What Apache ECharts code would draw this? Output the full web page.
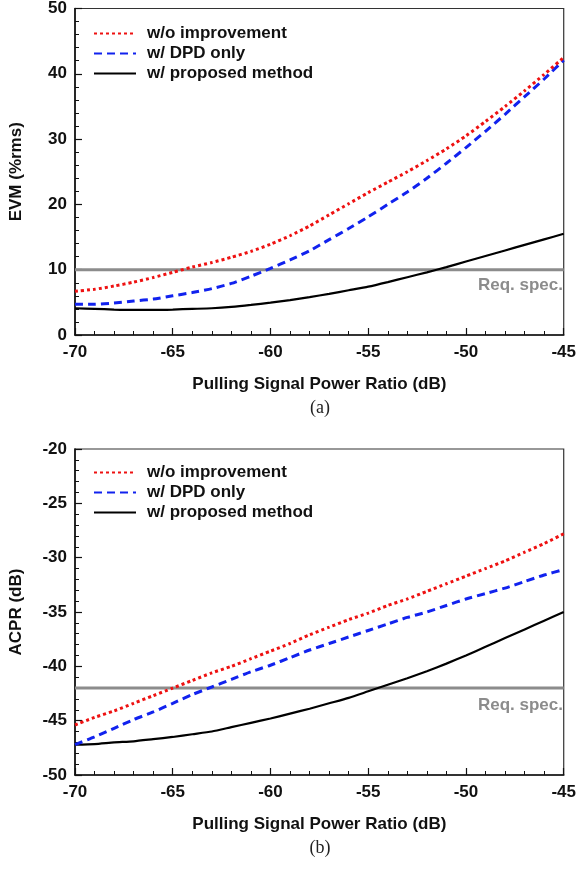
<!DOCTYPE html>
<html>
<head>
<meta charset="utf-8">
<script src="https://cdn.jsdelivr.net/npm/echarts@6/dist/echarts.min.js"></script>
<style>
html,body{margin:0;padding:0;background:#fff;}
#chart{width:579px;height:869px;}
</style>
</head>
<body>
<div id="chart"></div>
<script>
// ---- data ----
const xVals = [-70,-69,-68,-67,-66,-65,-64,-63,-62,-61,-60,-59,-58,-57,-56,-55,-54,-53,-52,-51,-50,-49,-48,-47,-46,-45];

const evmNoImprovement = [6.7,7.0,7.5,8.1,8.8,9.6,10.4,11.1,11.9,12.8,13.9,15.2,16.7,18.4,20.1,21.8,23.4,25.0,26.7,28.5,30.5,32.7,35.0,37.4,39.9,42.5];
const evmDpdOnly       = [4.7,4.7,4.9,5.2,5.5,6.0,6.5,7.1,7.9,9.0,10.2,11.5,12.9,14.6,16.3,18.1,20.0,21.9,24.0,26.3,28.7,31.2,33.8,36.5,39.2,42.1];
const evmProposed      = [4.1,4.0,3.9,3.85,3.85,3.9,4.0,4.1,4.3,4.6,4.95,5.35,5.8,6.3,6.85,7.4,8.1,8.85,9.6,10.4,11.25,12.1,12.95,13.8,14.65,15.5];

const acprNoImprovement = [-45.4,-44.7,-44.1,-43.4,-42.7,-42.0,-41.3,-40.6,-40.0,-39.3,-38.6,-37.9,-37.1,-36.4,-35.7,-35.1,-34.4,-33.8,-33.1,-32.4,-31.7,-31.0,-30.3,-29.5,-28.7,-27.8];
const acprDpdOnly       = [-47.2,-46.5,-45.7,-44.9,-44.2,-43.4,-42.6,-41.9,-41.2,-40.5,-39.9,-39.2,-38.5,-37.9,-37.3,-36.7,-36.1,-35.5,-35.0,-34.4,-33.8,-33.3,-32.8,-32.2,-31.6,-31.1];
const acprProposed      = [-47.2,-47.15,-47.0,-46.9,-46.7,-46.5,-46.25,-46.0,-45.6,-45.2,-44.8,-44.35,-43.9,-43.4,-42.9,-42.3,-41.7,-41.1,-40.45,-39.75,-39.0,-38.2,-37.4,-36.6,-35.8,-35.0];

const evmSpec = 10;
const acprSpec = -42;
const xRange = [-70, -45];
const evmRange = [0, 50];
const acprRange = [-50, -20];

const seriesNames = ['w/o improvement', 'w/ DPD only', 'w/ proposed method'];
const xTitle = 'Pulling Signal Power Ratio (dB)';
const yTitles = ['EVM (%rms)', 'ACPR (dB)'];
const captions = ['(a)', '(b)'];
const specLabel = 'Req. spec.';

// ---- chart ----
const FONT = 'Liberation Sans, Arial, sans-serif';
const pairs = arr => xVals.map((x, i) => [x, arr[i]]);

const chart = echarts.init(document.getElementById('chart'), null, {renderer: 'canvas'});

function makeX(gi) {
  return {
    gridIndex: gi, type: 'value', min: xRange[0], max: xRange[1], interval: 5,
    name: xTitle, nameLocation: 'middle', nameGap: 41,
    nameTextStyle: {fontFamily: FONT, fontWeight: 'bold', fontSize: 17, color: '#111'},
    axisLine: {show: true, onZero: false, lineStyle: {color: '#111', width: 1.6}},
    axisTick: {show: true, inside: true, length: 7, lineStyle: {color: '#111', width: 1.2}},
    minorTick: {show: true, splitNumber: 5, length: 4, lineStyle: {color: '#111', width: 1}},
    splitLine: {show: false},
    axisLabel: {fontFamily: FONT, fontWeight: 'bold', fontSize: 17, color: '#111', margin: 9}
  };
}
function makeY(gi, range, interval, minorSplit, title) {
  return {
    gridIndex: gi, type: 'value', min: range[0], max: range[1], interval: interval,
    name: title, nameLocation: 'middle', nameGap: 50, nameRotate: 90,
    nameTextStyle: {fontFamily: FONT, fontWeight: 'bold', fontSize: 17, color: '#111'},
    axisLine: {show: true, onZero: false, lineStyle: {color: '#111', width: 1.6}},
    axisTick: {show: true, inside: true, length: 7, lineStyle: {color: '#111', width: 1.2}},
    minorTick: {show: true, splitNumber: minorSplit, length: 4, lineStyle: {color: '#111', width: 1}},
    splitLine: {show: false},
    axisLabel: {fontFamily: FONT, fontWeight: 'bold', fontSize: 17, color: '#111', margin: 8}
  };
}
const styles = [
  {color: '#ee1111', width: 3, type: [3, 3]},
  {color: '#1122ee', width: 3, type: [8, 5]},
  {color: '#000000', width: 2.2, type: 'solid'}
];
function curves(gi, arrs) {
  return arrs.map((arr, k) => ({
    name: seriesNames[k], type: 'line', xAxisIndex: gi, yAxisIndex: gi,
    data: pairs(arr), symbol: 'none', smooth: 0.2, z: 5 - k,
    color: styles[k].color,
    lineStyle: {color: styles[k].color, width: styles[k].width, type: styles[k].type}
  }));
}
function specSeries(gi, val) {
  return {
    name: 'spec', type: 'line', xAxisIndex: gi, yAxisIndex: gi,
    data: [[xRange[0], val], [xRange[1], val]], symbol: 'none', silent: true, z: 1,
    lineStyle: {color: '#8c8c8c', width: 3}
  };
}
function makeLegend(top) {
  return {
    data: seriesNames, orient: 'vertical', left: 93, top: top, padding: 0,
    itemGap: 3, itemWidth: 42, itemHeight: 14, selectedMode: false,
    itemStyle: {opacity: 0},
    textStyle: {fontFamily: FONT, fontWeight: 'bold', fontSize: 17, color: '#111', padding: [0, 0, 0, 6]}
  };
}

const option = {
  backgroundColor: '#fff',
  animation: false,
  grid: [
    {left: 74, right: 13, top: 8, height: 327, show: true, borderColor: '#333', borderWidth: 1.2},
    {left: 74, right: 13, top: 449, height: 326, show: true, borderColor: '#333', borderWidth: 1.2}
  ],
  xAxis: [makeX(0), makeX(1)],
  yAxis: [makeY(0, evmRange, 10, 5, yTitles[0]), makeY(1, acprRange, 5, 5, yTitles[1])],
  legend: [makeLegend(25), makeLegend(464)],
  series: [
    specSeries(0, evmSpec),
    ...curves(0, [evmNoImprovement, evmDpdOnly, evmProposed]),
    specSeries(1, acprSpec),
    ...curves(1, [acprNoImprovement, acprDpdOnly, acprProposed])
  ],
  graphic: [
    {type: 'text', x: 563, y: 285, style: {text: specLabel, textAlign: 'right', textVerticalAlign: 'middle', fill: '#8c8c8c', font: 'bold 17px ' + FONT}},
    {type: 'text', x: 563, y: 705, style: {text: specLabel, textAlign: 'right', textVerticalAlign: 'middle', fill: '#8c8c8c', font: 'bold 17px ' + FONT}},
    {type: 'text', x: 320, y: 408, style: {text: captions[0], textAlign: 'center', textVerticalAlign: 'middle', fill: '#222', font: '18px Liberation Serif, Times New Roman, serif'}},
    {type: 'text', x: 320, y: 848, style: {text: captions[1], textAlign: 'center', textVerticalAlign: 'middle', fill: '#222', font: '18px Liberation Serif, Times New Roman, serif'}}
  ]
};
chart.setOption(option);
</script>
</body>
</html>
